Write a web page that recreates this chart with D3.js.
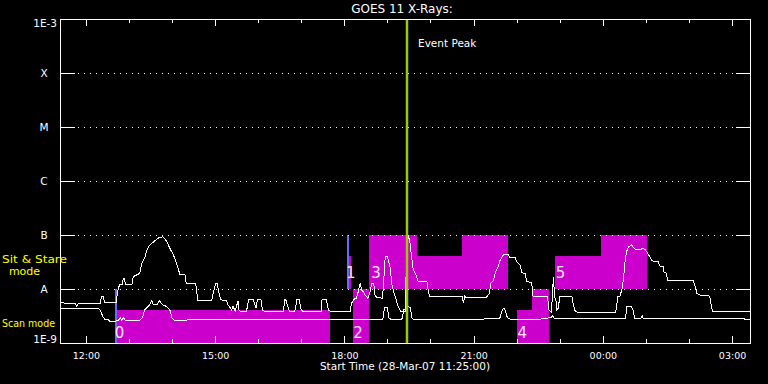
<!DOCTYPE html>
<html><head><meta charset="utf-8">
<script src="https://cdn.jsdelivr.net/npm/d3@7"></script>
<style>
html,body{margin:0;padding:0;background:#000;}
svg{display:block;background:#000;}
text{font-family:"DejaVu Sans",sans-serif;fill:#fff;}
</style></head><body>
<svg id="c" width="768" height="384"></svg>
<script>
// ---------------- data ----------------
const title = "GOES 11 X-Rays:";
const xTitle = "Start Time (28-Mar-07 11:25:00)";
const timeStart = "11:24";
const timeEnd = "03:25";
const yTickValues = [1e-9, 1e-8, 1e-7, 1e-6, 1e-5, 1e-4, 1e-3];
const yTickLabels = ["1E-9", "A", "B", "C", "M", "X", "1E-3"];
const classLevels = [1e-8, 1e-7, 1e-6, 1e-5, 1e-4];

// observing-mode blocks (magenta)
const modeStart = ["12:43","18:05","18:12","18:34","19:41","20:44","22:01","22:21","22:53","23:58"];
const modeEnd   = ["17:40","18:09","18:34","19:41","20:44","21:48","22:21","22:45","23:58","01:02"];
const modeLow   = [1e-9, 1e-8, 1e-9, 1e-8, 1e-8, 1e-8, 1e-9, 1e-9, 1e-8, 1e-8];
const modeHigh  = [4e-9, 4e-8, 1e-8, 1e-7, 4e-8, 1e-7, 4e-9, 1e-8, 4e-8, 1e-7];
const modeLabels = ["0","1","2","3","4","5"];
const modeLabelTime = ["12:47","18:09","18:19","18:44","22:08","23:01"];
const modeLabelFlux = [1.24e-9, 1.6e-8, 1.24e-9, 1.6e-8, 1.24e-9, 1.6e-8];

// blue markers
const markStart = ["12:40","18:04"];
const markEnd   = ["12:44","18:06"];
const markLow   = [1e-9, 1e-8];
const markHigh  = [1e-8, 1e-7];

const eventPeak = "19:27";
const eventLabel = "Event Peak";

const modeText = [["Sit & Stare", 3.03e-8], ["mode", 1.82e-8], ["Scan mode", 1.98e-9]];

// GOES long channel (1-8 A)
const longFlux = [["11:25",5.6e-9],["11:35",5.4e-9],["11:45",5.4e-9],["11:47",4.8e-9],["11:49",5.3e-9],["12:20",5.4e-9],["12:22",7.4e-9],["12:24",7.4e-9],["12:26",5.6e-9],["12:42",5.6e-9],["12:45",1.0e-8],["12:47",1.19e-8],["12:51",1.19e-8],["12:52",1.58e-8],["12:54",1.58e-8],["12:55",1.19e-8],["13:04",1.19e-8],["13:06",1.69e-8],["13:15",1.95e-8],["13:18",3.0e-8],["13:22",3.75e-8],["13:25",5.27e-8],["13:29",6.53e-8],["13:34",7.42e-8],["13:39",8.43e-8],["13:43",9.06e-8],["13:47",9.2e-8],["13:49",8.8e-8],["13:53",7.5e-8],["13:57",5.67e-8],["14:02",4.26e-8],["14:04",3.6e-8],["14:08",2.6e-8],["14:11",1.82e-8],["14:18",1.82e-8],["14:20",1.24e-8],["14:33",1.24e-8],["14:34",1.0e-8],["14:36",6.0e-9],["14:55",6.0e-9],["14:59",1.03e-8],["15:01",1.24e-8],["15:03",1.24e-8],["15:06",7.7e-9],["15:08",6.3e-9],["15:16",6.1e-9],["15:18",5.1e-9],["15:23",4.1e-9],["15:25",4.8e-9],["15:28",3.9e-9],["15:32",6.1e-9],["15:33",4.1e-9],["15:36",3.8e-9],["15:44",3.8e-9],["15:45",5.1e-9],["15:47",6.3e-9],["15:53",6.3e-9],["15:56",4.8e-9],["15:57",4.4e-9],["15:59",6.3e-9],["16:04",6.3e-9],["16:06",4.1e-9],["16:10",3.8e-9],["16:35",3.8e-9],["16:37",6.4e-9],["16:39",6.1e-9],["16:42",4.4e-9],["16:44",3.8e-9],["16:51",3.8e-9],["16:54",6.4e-9],["16:57",6.4e-9],["17:00",4.1e-9],["17:03",3.8e-9],["17:28",3.8e-9],["17:29",6.4e-9],["17:35",6.4e-9],["17:38",4.0e-9],["17:42",3.8e-9],["18:08",3.8e-9],["18:10",5.4e-9],["18:13",6.4e-9],["18:17",6.8e-9],["18:20",9.6e-9],["18:22",1.28e-8],["18:24",9.6e-9],["18:26",9.0e-9],["18:29",7.7e-9],["18:33",6.7e-9],["18:36",8.9e-9],["18:38",1.28e-8],["18:41",1.28e-8],["18:43",7.2e-9],["18:53",6.7e-9],["18:54",9.6e-9],["18:57",3.96e-8],["19:00",3.96e-8],["19:04",2.42e-8],["19:06",1.28e-8],["19:08",9.6e-9],["19:11",7.2e-9],["19:15",4.7e-9],["19:19",3.8e-9],["19:25",3.8e-9],["19:27",1.0e-7],["19:28",1.0e-7],["19:31",8.1e-8],["19:33",4.6e-8],["19:36",2.25e-8],["19:40",1.82e-8],["19:43",1.37e-8],["19:55",1.37e-8],["19:57",8.9e-9],["19:59",7.2e-9],["20:44",7.2e-9],["20:46",5.6e-9],["20:48",7.6e-9],["20:49",7.0e-9],["21:18",7.0e-9],["21:22",8.3e-9],["21:24",1.28e-8],["21:28",1.47e-8],["21:30",1.95e-8],["21:35",2.78e-8],["21:37",3.44e-8],["21:40",3.96e-8],["21:42",4.39e-8],["21:48",4.39e-8],["21:50",3.86e-8],["21:58",3.86e-8],["22:00",3.2e-8],["22:05",2.78e-8],["22:07",2.0e-8],["22:12",1.95e-8],["22:14",1.37e-8],["22:21",1.32e-8],["22:22",8.9e-9],["22:23",7.2e-9],["22:43",7.4e-9],["22:45",4.1e-9],["22:48",3.8e-9],["22:50",7.2e-9],["22:51",1.69e-8],["22:53",7.2e-9],["22:55",5.8e-9],["22:56",4.1e-9],["22:58",4.4e-9],["23:00",7.2e-9],["23:17",7.2e-9],["23:19",5.1e-9],["23:21",4.0e-9],["23:25",3.7e-9],["00:18",3.7e-9],["00:21",7.2e-9],["00:24",7.4e-9],["00:27",1.03e-8],["00:29",1.69e-8],["00:31",3.2e-8],["00:33",4.91e-8],["00:36",6.07e-8],["00:40",6.53e-8],["00:45",5.43e-8],["00:52",5.27e-8],["00:55",5.67e-8],["00:59",5.43e-8],["01:04",4.26e-8],["01:08",3.44e-8],["01:10",3.3e-8],["01:17",3.3e-8],["01:19",2.67e-8],["01:24",2.59e-8],["01:25",2.09e-8],["01:29",1.95e-8],["01:30",1.41e-8],["02:06",1.41e-8],["02:09",1.1e-8],["02:11",8.3e-9],["02:16",7.7e-9],["02:22",7.6e-9],["02:27",7.7e-9],["02:29",7.2e-9],["02:31",5.1e-9],["02:33",3.8e-9],["03:25",3.8e-9]];

// GOES short channel (0.5-4 A)
const shortFlux = [["11:25",4.4e-9],["12:17",4.4e-9],["12:20",4.1e-9],["12:22",3.5e-9],["12:24",3.0e-9],["12:27",2.7e-9],["12:31",2.7e-9],["12:34",2.5e-9],["12:38",2.5e-9],["12:45",2.6e-9],["12:48",2.9e-9],["12:50",2.6e-9],["12:52",3.0e-9],["12:55",2.6e-9],["13:15",2.6e-9],["13:19",3.0e-9],["13:22",4.1e-9],["13:29",5.1e-9],["13:32",6.1e-9],["13:34",5.1e-9],["13:39",5.1e-9],["13:42",6.1e-9],["13:44",5.7e-9],["13:47",5.1e-9],["13:53",4.7e-9],["13:57",4.1e-9],["14:00",2.9e-9],["14:04",2.6e-9],["14:30",2.7e-9],["16:00",2.7e-9],["17:30",2.7e-9],["18:53",2.7e-9],["18:54",2.9e-9],["18:56",4.6e-9],["19:00",4.6e-9],["19:02",2.9e-9],["19:06",2.7e-9],["19:20",2.7e-9],["19:23",4.1e-9],["19:26",4.1e-9],["19:29",4.7e-9],["19:32",4.5e-9],["19:34",2.9e-9],["19:37",2.7e-9],["21:36",2.8e-9],["21:37",3.0e-9],["21:40",4.1e-9],["21:42",4.4e-9],["21:44",4.1e-9],["21:46",3.2e-9],["21:48",2.9e-9],["21:53",2.7e-9],["22:26",2.7e-9],["22:44",2.9e-9],["22:48",3.0e-9],["22:50",3.2e-9],["22:52",2.9e-9],["00:32",2.9e-9],["00:33",4.7e-9],["00:40",4.7e-9],["00:43",3.8e-9],["00:44",2.9e-9],["00:53",2.9e-9],["00:55",3.2e-9],["00:56",2.9e-9],["03:16",2.9e-9],["03:18",2.7e-9],["03:25",2.7e-9]];

// ---------------- drawing ----------------
function T(s){ const [h,m] = s.split(":").map(Number); return new Date(2007, 2, h < 11 ? 29 : 28, h, m); }

const svg = d3.select("#c");
const L = 60, R = 750, TOP = 19, BOT = 343;
const x = d3.scaleTime().domain([T(timeStart), T(timeEnd)]).range([L, R]);
const y = d3.scaleLog().domain([1e-9, 1e-3]).range([BOT, TOP]);

svg.append("rect").attr("width",768).attr("height",384).attr("fill","#000");

// mode blocks
svg.append("g").selectAll("rect").data(modeStart.map((s,i)=>i)).join("rect")
  .attr("x", i => x(T(modeStart[i])))
  .attr("width", i => x(T(modeEnd[i])) - x(T(modeStart[i])))
  .attr("y", i => y(modeHigh[i]))
  .attr("height", i => y(modeLow[i]) - y(modeHigh[i]))
  .attr("fill", "#cc00cc").attr("shape-rendering","crispEdges");

// blue markers
svg.append("g").selectAll("rect").data(markStart.map((s,i)=>i)).join("rect")
  .attr("x", i => x(T(markStart[i])))
  .attr("width", i => x(T(markEnd[i])) - x(T(markStart[i])))
  .attr("y", i => y(markHigh[i]))
  .attr("height", i => y(markLow[i]) - y(markHigh[i]))
  .attr("fill", "#6a6aff").attr("shape-rendering","crispEdges");

// dotted class lines
svg.append("g").selectAll("line").data(classLevels).join("line")
  .attr("x1", 78).attr("x2", 736)
  .attr("y1", d => Math.round(y(d)) + 0.5).attr("y2", d => Math.round(y(d)) + 0.5)
  .attr("stroke", "#fff").attr("stroke-width", 1).attr("stroke-dasharray", "1,5");

// curves
const line = d3.line().x(d => x(T(d[0]))).y(d => y(d[1]));
[longFlux, shortFlux].forEach(series => {
  svg.append("path").datum(series).attr("d", line)
    .attr("fill","none").attr("stroke","#fff").attr("stroke-width",1)
    .attr("shape-rendering","crispEdges");
});

// event peak line
const ex = Math.round(x(T(eventPeak)));
svg.append("line").attr("x1", ex).attr("x2", ex).attr("y1", TOP).attr("y2", BOT)
  .attr("stroke", "#99cc00").attr("stroke-width", 2.5);
svg.append("text").attr("x", ex + 11).attr("y", 47).attr("font-size", "10.5px").text(eventLabel);

// mode numbers
svg.append("g").selectAll("text").data(modeLabels).join("text")
  .attr("x", (d,i) => x(T(modeLabelTime[i])))
  .attr("y", (d,i) => y(modeLabelFlux[i]))
  .attr("text-anchor","middle").attr("font-size","15px")
  .style("fill","#ffe8ff").text(d => d);

// axes (ticks)
function styleAxis(g){ g.select(".domain").remove(); g.selectAll("line").attr("stroke","#fff").attr("shape-rendering","crispEdges"); }
const bMinor = svg.append("g").attr("transform",`translate(0,${BOT})`)
  .call(d3.axisBottom(x).ticks(d3.timeHour.every(1)).tickSize(-4).tickFormat(""));
styleAxis(bMinor);
const bMajor = svg.append("g").attr("transform",`translate(0,${BOT})`)
  .call(d3.axisBottom(x).ticks(d3.timeHour.every(3)).tickSize(-7).tickFormat(d3.timeFormat("%H:%M")));
styleAxis(bMajor);
bMajor.selectAll("text").attr("y", 16).attr("dy", 0).attr("font-size","9.5px")
  .attr("font-family","DejaVu Sans").attr("fill","#fff");
const tMinor = svg.append("g").attr("transform",`translate(0,${TOP})`)
  .call(d3.axisTop(x).ticks(d3.timeHour.every(1)).tickSize(-4).tickFormat(""));
styleAxis(tMinor);
const tMajor = svg.append("g").attr("transform",`translate(0,${TOP})`)
  .call(d3.axisTop(x).ticks(d3.timeHour.every(3)).tickSize(-7).tickFormat(""));
styleAxis(tMajor);

const lAx = svg.append("g").attr("transform",`translate(${L},0)`)
  .call(d3.axisLeft(y).tickValues(classLevels).tickSize(-15).tickFormat(""));
styleAxis(lAx);
const rAx = svg.append("g").attr("transform",`translate(${R},0)`)
  .call(d3.axisRight(y).tickValues(classLevels).tickSize(-14).tickFormat(""));
styleAxis(rAx);

// frame
svg.append("rect").attr("x", L + 0.5).attr("y", TOP + 0.5).attr("width", R - L).attr("height", BOT - TOP)
  .attr("fill","none").attr("stroke","#fff").attr("stroke-width",1);

// y labels
svg.append("g").selectAll("text").data(yTickValues).join("text")
  .attr("x", (d,i) => (i === 0 || i === yTickValues.length - 1) ? 57 : 44)
  .attr("y", (d,i) => i === 0 ? y(d) : (i === yTickValues.length - 1 ? y(d) + 8 : y(d) + 4))
  .attr("text-anchor", (d,i) => (i === 0 || i === yTickValues.length - 1) ? "end" : "middle")
  .attr("font-size","10.5px").text((d,i) => yTickLabels[i]);

// yellow mode text
svg.append("text").attr("x", 2).attr("y", y(modeText[0][1])).attr("font-size","11px")
  .attr("textLength", 65).attr("lengthAdjust","spacingAndGlyphs").style("fill","#ffff00").text(modeText[0][0]);
svg.append("text").attr("x", 24.5).attr("y", y(modeText[1][1])).attr("font-size","11px")
  .attr("text-anchor","middle").style("fill","#ffff00").text(modeText[1][0]);
svg.append("text").attr("x", 2).attr("y", y(modeText[2][1])).attr("font-size","11px")
  .attr("textLength", 53).attr("lengthAdjust","spacingAndGlyphs").style("fill","#ffff00").text(modeText[2][0]);

// titles
svg.append("text").attr("x", 402).attr("y", 13).attr("text-anchor","middle").attr("font-size","12px").text(title);
svg.append("text").attr("x", 405).attr("y", 370).attr("text-anchor","middle").attr("font-size","10.5px").text(xTitle);
</script>
</body></html>
